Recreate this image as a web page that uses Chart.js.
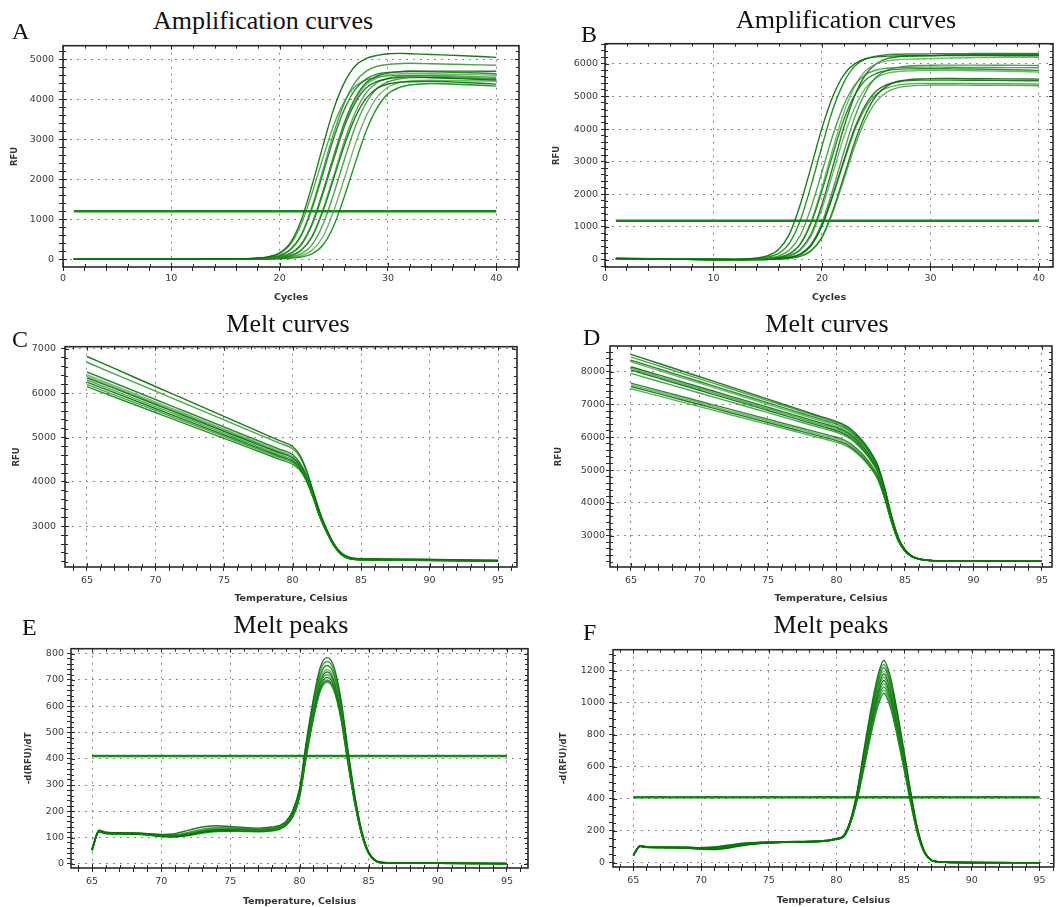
<!DOCTYPE html>
<html><head><meta charset="utf-8">
<script src="https://cdn.jsdelivr.net/npm/chart.js@4.4.1/dist/chart.umd.min.js"></script>
<style>
html,body{margin:0;padding:0;background:#fff;}
body{width:1057px;height:907px;position:relative;overflow:hidden;}
canvas{position:absolute;}
.t{position:absolute;font-family:"Liberation Serif","Times New Roman",serif;color:#111;white-space:nowrap;}
</style></head><body>
<script>
// ---------- DATA ----------
const AMP_CYCLES = [1,5,10,12,13,14,15,16,17,18,19,20,21,22,23,24,25,26,27,28,29,30,31,32,34,37,40];
const AMP_A_CURVES = [
 [0,0,0,0,1,1,2,4,10,26,62,155,412,979,1854,2833,3760,4429,4841,5021,5099,5140,5150,5140,5120,5090,5050],
 [0,0,0,0,0,1,1,2,5,15,39,93,245,613,1323,2230,3160,3920,4435,4704,4827,4870,4890,4900,4890,4870,4850],
 [0,0,0,0,0,1,1,2,5,14,38,89,235,588,1269,2139,3032,3760,4254,4512,4630,4670,4690,4700,4690,4670,4640],
 [0,0,0,0,0,0,1,2,4,9,23,56,140,372,884,1674,2558,3395,3999,4371,4534,4604,4636,4650,4640,4620,4600],
 [0,0,0,0,0,0,1,2,4,9,23,55,137,365,866,1640,2508,3329,3922,4286,4446,4514,4546,4560,4540,4510,4480],
 [0,0,0,0,0,0,0,1,3,6,15,37,87,230,575,1242,2093,2967,3680,4163,4416,4531,4575,4590,4600,4580,4550],
 [0,0,0,0,0,0,0,1,3,6,15,36,84,222,556,1201,2025,2870,3560,4027,4272,4383,4425,4440,4450,4420,4380],
 [0,0,0,0,0,0,0,1,2,4,9,23,55,137,364,865,1638,2503,3322,3913,4277,4436,4505,4536,4550,4530,4500],
 [0,0,0,0,0,0,0,0,1,2,4,9,22,53,132,352,836,1584,2420,3212,3784,4136,4290,4356,4395,4370,4330],
 [0,0,0,0,0,0,0,0,1,3,5,15,36,85,224,560,1210,2038,2890,3584,4054,4301,4413,4460,4480,4465,4450],
 [0,0,0,0,0,0,1,2,4,9,23,57,141,376,893,1692,2585,3431,4043,4418,4583,4654,4686,4700,4705,4705,4700],
 [0,0,0,0,1,1,2,4,9,23,55,138,368,874,1656,2530,3358,3956,4324,4485,4554,4586,4598,4600,4580,4550,4520]
];
const AMP_B_CURVES = [
 [40,20,5,9,19,50,119,313,781,1688,2844,4031,5000,5656,6000,6156,6213,6235,6245,6250,6250,6250,6260,6270,6280,6280,6280],
 [35,15,3,3,9,18,47,112,295,738,1593,2685,3806,4720,5340,5664,5812,5865,5885,5895,5900,5900,5900,5895,5890,5885,5880],
 [30,15,3,2,5,12,29,70,176,468,1112,2106,3218,4271,5031,5499,5704,5792,5830,5845,5850,5850,5850,5845,5840,5820,5800],
 [30,15,3,2,5,13,30,74,185,492,1169,2214,3383,4489,5289,5781,5996,6089,6128,6144,6150,6160,6170,6180,6190,6200,6200],
 [30,15,3,1,2,4,11,28,66,165,440,1045,1980,3025,4015,4730,5170,5363,5445,5484,5500,5500,5500,5500,5495,5490,5480],
 [30,15,3,0,1,3,6,16,43,102,268,669,1445,2434,3451,4280,4842,5136,5270,5318,5340,5350,5350,5350,5345,5340,5330],
 [30,15,3,0,1,3,6,17,45,106,278,694,1498,2524,3579,4438,5021,5326,5465,5515,5537,5548,5550,5550,5545,5540,5530],
 [30,15,3,1,2,4,12,30,71,179,476,1131,2142,3273,4344,5118,5594,5803,5891,5934,5950,5955,5960,5960,5960,5955,5950],
 [45,25,5,4,13,32,76,189,504,1197,2268,3465,4599,5418,5922,6143,6237,6281,6295,6300,6300,6305,6310,6310,6315,6320,6320],
 [30,15,3,1,3,9,17,46,110,290,725,1566,2639,3741,4640,5249,5568,5713,5765,5785,5795,5800,5800,5795,5790,5770,5750],
 [30,15,3,1,3,10,18,50,119,313,782,1688,2845,4033,5002,5658,6002,6159,6215,6236,6247,6252,6255,6255,6255,6250,6250],
 [30,15,3,1,2,4,11,27,65,162,432,1026,1944,2971,3943,4645,5077,5266,5347,5385,5400,5400,5400,5400,5395,5390,5380]
];
const AMP_THRESHOLD_A = 1200;
const AMP_THRESHOLD_B = 1190;
const AMP_THRESHOLD_SPAN = [1, 40];

const MELT_TEMPS = [65,67,70,72,75,77,78,79,80,80.5,81,81.5,82,82.5,83,83.5,84,84.5,85,85.5,86,86.5,87,90,95];
const MELT_C_CURVES = [
 [6830,6560,6153,5883,5477,5207,5071,4936,4800,4620,4280,3800,3320,2930,2620,2420,2320,2280,2270,2268,2267,2266,2265,2255,2235],
 [6700,6440,6050,5790,5400,5140,5010,4880,4750,4580,4250,3780,3300,2920,2610,2410,2310,2275,2265,2263,2262,2261,2260,2250,2230],
 [6480,6232,5860,5612,5240,4992,4868,4744,4620,4450,4160,3720,3260,2900,2600,2400,2300,2265,2255,2253,2252,2251,2250,2245,2225],
 [6420,6175,5807,5561,5193,4947,4825,4702,4580,4420,4130,3700,3240,2890,2590,2395,2295,2262,2252,2250,2249,2248,2248,2240,2220],
 [6350,6109,5747,5505,5143,4901,4781,4660,4540,4390,4110,3690,3230,2880,2585,2390,2292,2260,2250,2248,2247,2246,2245,2238,2218],
 [6300,6060,5700,5460,5100,4860,4740,4620,4500,4360,4090,3680,3220,2875,2580,2385,2290,2258,2248,2246,2245,2244,2243,2235,2215],
 [6250,6013,5657,5419,5063,4826,4707,4589,4470,4335,4070,3670,3215,2870,2578,2383,2288,2256,2246,2244,2243,2242,2241,2232,2212],
 [6200,5965,5613,5379,5027,4792,4675,4557,4440,4310,4050,3660,3210,2865,2575,2380,2285,2254,2244,2242,2241,2240,2239,2230,2210],
 [6150,5917,5567,5333,4983,4750,4633,4517,4400,4280,4030,3650,3205,2860,2570,2378,2283,2252,2242,2240,2239,2238,2237,2228,2208],
 [6380,6137,5772,5529,5167,4924,4803,4681,4560,4400,4120,3695,3235,2885,2588,2392,2294,2261,2251,2249,2248,2247,2246,2239,2219]
];
const MELT_D_CURVES = [
 [8530,8257,7847,7573,7163,6890,6753,6617,6480,6395,6268,6076,5843,5545,5163,4483,3633,2953,2570,2379,2294,2256,2239,2228,2218],
 [8450,8183,7783,7517,7117,6850,6717,6583,6450,6366,6239,6049,5817,5522,5142,4467,3623,2947,2568,2378,2293,2255,2238,2227,2217],
 [8350,8090,7700,7440,7050,6790,6660,6530,6400,6317,6192,6004,5775,5483,5107,4440,3606,2939,2564,2376,2293,2255,2238,2227,2217],
 [8300,8040,7650,7390,7000,6740,6610,6480,6350,6268,6144,5959,5732,5444,5073,4414,3590,2930,2560,2374,2292,2255,2238,2226,2216],
 [8150,7903,7533,7287,6917,6670,6547,6423,6300,6219,6097,5913,5690,5405,5038,4387,3573,2922,2556,2372,2291,2254,2238,2226,2216],
 [8100,7853,7483,7237,6867,6620,6497,6373,6250,6170,6049,5868,5647,5366,5004,4361,3557,2913,2552,2371,2290,2254,2238,2226,2216],
 [8050,7803,7433,7187,6817,6570,6447,6323,6200,6121,6002,5823,5605,5327,4969,4334,3540,2905,2548,2369,2290,2254,2238,2226,2216],
 [7950,7710,7350,7110,6750,6510,6390,6270,6150,6072,5954,5778,5562,5288,4935,4308,3524,2896,2544,2367,2289,2254,2238,2225,2215],
 [7650,7430,7100,6880,6550,6330,6220,6110,6000,5925,5812,5642,5435,5171,4831,4228,3474,2871,2532,2362,2287,2253,2238,2225,2215],
 [7600,7380,7050,6830,6500,6280,6170,6060,5950,5876,5764,5597,5392,5132,4797,4202,3458,2862,2528,2360,2286,2252,2237,2225,2215],
 [7550,7330,7000,6780,6450,6230,6120,6010,5900,5827,5717,5551,5350,5093,4762,4175,3441,2854,2524,2358,2285,2252,2237,2225,2215],
 [7480,7263,6937,6719,6393,6176,6067,5959,5850,5778,5669,5506,5307,5054,4728,4149,3425,2845,2520,2357,2284,2252,2237,2225,2215]
];

const PEAK_E_TEMPS = [65,65.5,66,67,68,69,70,71,72,73,74,75,76,77,78,78.5,79,79.5,80,80.5,81,81.5,82,82.5,83,83.5,84,84.5,85,85.5,86,88,90,95];
const PEAK_E_CURVES = [
 [55,128,120,118,117,115,112,115,128,140,145,142,138,136,140,145,160,202,286,467,626,748,785,748,626,435,260,125,45,13,5,3,3,1],
 [55,126,118,117,116,114,110,110,120,132,138,137,134,132,136,142,156,198,281,458,614,734,770,734,614,427,255,123,44,12,5,3,3,1],
 [52,124,117,116,115,113,108,107,114,124,130,131,130,129,132,138,152,194,275,449,602,719,755,719,602,418,250,120,43,12,5,3,2,1],
 [55,125,118,117,116,113,108,108,115,125,130,130,128,127,130,135,150,190,270,440,590,705,740,705,590,410,245,118,42,12,5,3,3,0],
 [50,122,115,114,113,110,105,104,110,120,126,127,126,125,128,133,147,187,266,434,582,695,730,695,582,404,242,116,41,11,4,3,2,0],
 [56,127,119,118,117,114,109,109,116,127,133,133,131,129,132,136,150,185,263,428,574,686,720,686,574,399,238,115,41,11,4,2,2,0],
 [53,123,116,115,114,111,106,105,112,122,128,128,127,126,129,134,148,182,259,422,566,676,710,676,566,393,235,113,40,11,4,2,2,1],
 [54,124,117,116,115,112,107,106,113,123,129,129,128,127,130,134,149,180,255,416,558,667,700,667,558,388,232,112,40,10,4,2,2,0],
 [52,121,114,113,112,109,104,102,108,117,123,124,123,122,125,130,145,178,254,413,554,662,695,662,554,385,230,111,39,10,4,2,2,0],
 [57,126,119,118,117,115,111,111,118,128,134,134,132,131,134,138,152,177,252,410,550,657,690,657,550,382,228,110,39,10,4,2,2,0]
];
const PEAK_F_TEMPS = [65,65.5,66,67,68,69,70,71,72,73,74,75,76,77,78,79,79.5,80,80.5,81,81.5,82,82.5,83,83.5,84,84.5,85,85.5,86,86.5,87,87.5,88,90,95];
const PEAK_F_CURVES = [
 [48,106,100,98,98,97,95,98,108,120,126,130,132,132,134,138,142,152,168,258,430,686,933,1147,1265,1158,943,697,440,214,75,19,8,6,3,2],
 [52,108,102,100,99,98,96,100,112,124,128,132,133,134,135,139,144,154,167,255,425,673,914,1125,1240,1135,925,683,431,210,74,19,8,6,3,2],
 [45,104,98,97,96,94,90,90,100,115,124,128,130,131,133,137,141,150,166,254,420,662,900,1106,1220,1117,910,672,424,207,72,19,8,6,3,2],
 [50,106,100,98,97,96,94,96,106,118,125,129,131,132,134,138,142,151,165,252,415,651,885,1088,1200,1098,895,661,417,203,71,18,8,6,3,2],
 [47,103,97,96,95,93,88,86,95,110,120,126,129,130,132,136,140,149,165,250,410,640,870,1070,1180,1080,880,650,410,200,70,18,8,5,3,2],
 [51,107,101,99,98,97,95,97,107,119,126,130,132,133,135,139,143,152,164,248,405,629,855,1052,1160,1062,865,639,403,197,69,18,8,5,3,1],
 [49,105,99,97,96,94,90,89,98,112,121,127,130,131,133,137,141,150,163,246,400,618,840,1034,1140,1043,850,628,396,193,68,17,7,5,2,1],
 [52,108,102,100,99,98,96,99,110,122,127,131,133,134,136,140,144,153,162,244,395,607,826,1015,1120,1025,835,617,389,190,66,17,7,5,2,1],
 [46,104,98,96,95,92,86,84,92,108,119,125,128,129,131,135,139,148,161,242,390,597,811,997,1100,1007,820,606,382,186,65,17,7,5,2,1],
 [50,106,100,98,97,96,93,94,103,116,124,128,130,131,133,137,141,150,160,240,385,586,796,979,1080,988,805,595,375,183,64,16,7,5,2,1],
 [48,105,99,97,96,94,91,91,100,114,122,127,129,130,132,136,140,149,159,238,380,575,781,961,1060,970,790,584,368,180,63,16,7,5,2,1]
];
const PEAK_THRESHOLD_E = 410;
const PEAK_THRESHOLD_F = 410;
const MELT_THRESHOLD_SPAN = [65, 95];

const PANEL_TITLES = ['Amplification curves','Amplification curves','Melt curves','Melt curves','Melt peaks','Melt peaks'];
const PANEL_LETTERS = ['A','B','C','D','E','F'];
const X_TITLES = ['Cycles','Cycles','Temperature, Celsius','Temperature, Celsius','Temperature, Celsius','Temperature, Celsius'];
const Y_TITLES = ['RFU','RFU','RFU','RFU','-d(RFU)/dT','-d(RFU)/dT'];

// ---------- LAYOUT ----------
const GREENS = ['rgba(0,112,0,0.9)','rgba(34,139,34,0.8)','rgba(0,128,0,0.85)','rgba(60,160,60,0.75)','rgba(0,100,0,0.85)','rgba(45,150,45,0.8)'];
const TICK_FONT = {family:'"DejaVu Sans", Verdana, sans-serif', size:9.5};
const AX_FONT = {family:'"DejaVu Sans", Verdana, sans-serif', size:9.5, weight:'bold'};
const YT_FONT = {family:'"DejaVu Sans", Verdana, sans-serif', size:8.5, weight:'bold'};

const PANELS = [
 {box:[0,35,530,275], plot:[63,43,519,267], xs:AMP_CYCLES, curves:AMP_A_CURVES, thr:AMP_THRESHOLD_A, span:AMP_THRESHOLD_SPAN,
  x:{min:0,max:42.1,step:2,major:10,pad:2,tcy:298}, y:{min:-198,max:5341,step:200,major:1000,pad:5,tcx:15},
  title:[263,29.5], letter:[12,39]},
 {box:[527,35,530,275], plot:[605,43,1053,267], xs:AMP_CYCLES, curves:AMP_B_CURVES, thr:AMP_THRESHOLD_B, span:AMP_THRESHOLD_SPAN,
  x:{min:0,max:41.3,step:2,major:10,pad:2,tcy:298}, y:{min:-226,max:6617,step:200,major:1000,pad:3,tcx:557},
  title:[846,29], letter:[581,42]},
 {box:[0,336,530,275], plot:[65,344,517,567], xs:MELT_TEMPS, curves:MELT_C_CURVES, thr:null,
  x:{min:63.4,max:96.38,step:1,major:5,pad:4,tcy:599}, y:{min:2082,max:7051,step:200,major:1000,pad:5,tcx:17},
  title:[288,333], letter:[12,347]},
 {box:[527,336,530,275], plot:[610,346,1052,567], xs:MELT_TEMPS, curves:MELT_D_CURVES, thr:null,
  x:{min:63.47,max:95.73,step:1,major:5,pad:4,tcy:599}, y:{min:2043,max:8784,step:200,major:1000,pad:1,tcx:559},
  title:[827,333], letter:[583,345]},
 {box:[0,640,530,267], plot:[71,648,528,868], xs:PEAK_E_TEMPS, curves:PEAK_E_CURVES, thr:PEAK_THRESHOLD_E, span:MELT_THRESHOLD_SPAN,
  x:{min:63.48,max:96.52,step:1,major:5,pad:4,tcy:901.5}, y:{min:-16,max:819,step:20,major:100,pad:3,tcx:29},
  title:[291,634], letter:[22,635]},
 {box:[527,640,530,267], plot:[613,647,1057,867], xs:PEAK_F_TEMPS, curves:PEAK_F_CURVES, thr:PEAK_THRESHOLD_F, span:MELT_THRESHOLD_SPAN,
  x:{min:63.5,max:96.06,step:1,major:5,pad:4,tcy:901}, y:{min:-25,max:1332,step:50,major:200,pad:4,tcx:564},
  title:[831,634], letter:[583,640]}
];

const isMaj = (v, m) => Math.abs(v / m - Math.round(v / m)) < 1e-6;
function stepTicks(min, max, step) {
  const out = [];
  for (let k = Math.ceil(min / step - 1e-9); k * step <= max + 1e-9; k++) {
    out.push({value: Math.round(k * step * 1e6) / 1e6});
  }
  return out;
}

const boxPlugin = {
  id: 'box',
  afterDraw(chart) {
    const {ctx, chartArea: a, scales} = chart;
    const xs = scales.x, ys = scales.y;
    ctx.save();
    ctx.strokeStyle = '#2a2a2a';
    ctx.lineWidth = 1;
    ctx.beginPath();
    xs.ticks.forEach(t => {
      const px = Math.round(xs.getPixelForValue(t.value)) + 0.5;
      const L = isMaj(t.value, xs.options._major) ? 4 : 3;
      ctx.moveTo(px, a.top); ctx.lineTo(px, a.top + L);
      ctx.moveTo(px, a.bottom); ctx.lineTo(px, a.bottom - L);
    });
    ys.ticks.forEach(t => {
      const py = Math.round(ys.getPixelForValue(t.value)) + 0.5;
      const L = isMaj(t.value, ys.options._major) ? 4 : 3;
      ctx.moveTo(a.right, py); ctx.lineTo(a.right - L, py);
      ctx.moveTo(a.left, py); ctx.lineTo(a.left + L, py);
    });
    ctx.stroke();
    ctx.lineWidth = 1.6;
    ctx.strokeRect(a.left, a.top, a.right - a.left, a.bottom - a.top);
    ctx.restore();
  }
};

function addText(txt, left, top, size, center) {
  const d = document.createElement('div');
  d.className = 't';
  d.textContent = txt;
  d.style.fontSize = size + 'px';
  d.style.lineHeight = size + 'px';
  d.style.top = top + 'px';
  if (center) { d.style.left = (left - 200) + 'px'; d.style.width = '400px'; d.style.textAlign = 'center'; }
  else d.style.left = left + 'px';
  document.body.appendChild(d);
}

PANELS.forEach((p, idx) => {
  const cv = document.createElement('canvas');
  cv.width = p.box[2]; cv.height = p.box[3];
  cv.style.left = p.box[0] + 'px'; cv.style.top = p.box[1] + 'px';
  cv.style.width = p.box[2] + 'px'; cv.style.height = p.box[3] + 'px';
  document.body.appendChild(cv);

  const yW = p.plot[0] - p.box[0];
  const xH = p.box[1] + p.box[3] - p.plot[3];
  const padTop = p.plot[1] - p.box[1];
  const padRight = Math.max(0, p.box[0] + p.box[2] - p.plot[2]);

  const datasets = p.curves.map((ys, i) => ({
    data: p.xs.map((x, j) => ({x: x, y: ys[j]})),
    borderColor: GREENS[i % GREENS.length],
    borderWidth: 1.4,
    pointRadius: 0,
    cubicInterpolationMode: 'monotone',
    fill: false
  }));
  if (p.thr !== null) {
    datasets.push({
      data: [{x: p.span[0], y: p.thr}, {x: p.span[1], y: p.thr}],
      borderColor: 'rgb(25,135,25)', borderWidth: 2.5, pointRadius: 0, fill: false
    });
  }

  const xTitleBottom = Math.max(0, p.box[1] + p.box[3] - p.x.tcy - AX_FONT.size * 0.6);
  const yTitleTop = Math.max(0, p.y.tcx - p.box[0] - YT_FONT.size * 0.6);

  new Chart(cv, {
    type: 'line',
    data: {datasets},
    options: {
      responsive: false, animation: false, devicePixelRatio: 1,
      layout: {padding: {top: padTop, right: padRight, left: 0, bottom: 0}},
      plugins: {legend: {display: false}, tooltip: {enabled: false}},
      scales: {
        x: {
          type: 'linear', min: p.x.min, max: p.x.max, _major: p.x.major,
          afterFit: s => { s.height = xH; },
          afterBuildTicks: s => { s.ticks = stepTicks(p.x.min, p.x.max, p.x.step); },
          ticks: {autoSkip: false, maxRotation: 0, minRotation: 0,
            padding: p.x.pad, font: TICK_FONT, color: '#3a3a3a',
            callback: v => isMaj(v, p.x.major) ? String(Math.round(v)) : ''},
          grid: {color: c => (c.tick && isMaj(c.tick.value, p.x.major)) ? '#8a8a8a' : 'rgba(0,0,0,0)',
            lineWidth: 1, tickLength: 4, tickColor: '#2a2a2a', drawTicks: true},
          border: {display: false, dash: [2, 5]},
          title: {display: true, text: X_TITLES[idx], font: AX_FONT, color: '#333', padding: {top: 0, bottom: xTitleBottom}}
        },
        y: {
          type: 'linear', min: p.y.min, max: p.y.max, _major: p.y.major,
          afterFit: s => { s.width = yW; },
          afterBuildTicks: s => { s.ticks = stepTicks(p.y.min, p.y.max, p.y.step); },
          ticks: {autoSkip: false,
            padding: p.y.pad, font: TICK_FONT, color: '#3a3a3a',
            callback: v => isMaj(v, p.y.major) ? String(Math.round(v)) : ''},
          grid: {color: c => (c.tick && isMaj(c.tick.value, p.y.major)) ? '#8a8a8a' : 'rgba(0,0,0,0)',
            lineWidth: 1, tickLength: 4, tickColor: '#2a2a2a', drawTicks: true},
          border: {display: false, dash: [2, 5]},
          title: {display: true, text: Y_TITLES[idx], font: YT_FONT, color: '#333', padding: {top: yTitleTop, bottom: 0}}
        }
      }
    },
    plugins: [boxPlugin]
  });

  addText(PANEL_TITLES[idx], p.title[0], p.title[1] - 0.8375 * 26, 26, true);
  addText(PANEL_LETTERS[idx], p.letter[0], p.letter[1] - 0.8375 * 24, 24, false);
});
</script>
</body></html>
